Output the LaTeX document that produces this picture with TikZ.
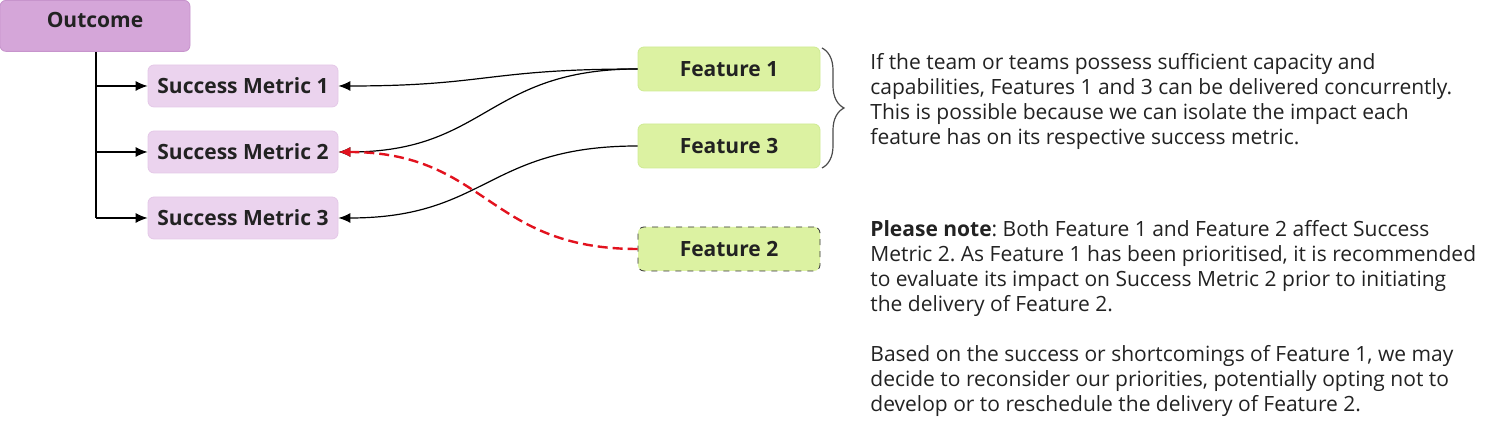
\documentclass[tikz,border=0pt]{standalone}
\usepackage{fontspec}
\setmainfont{Open Sans}
\frenchspacing
\usetikzlibrary{arrows.meta,decorations.pathreplacing}
\definecolor{outcomefill}{HTML}{D5A6D9}
\definecolor{outcomedraw}{HTML}{C794CC}
\definecolor{metricfill}{HTML}{EBD3EE}
\definecolor{metricdraw}{HTML}{E4C8E7}
\definecolor{featurefill}{HTML}{DCF2A2}
\definecolor{featuredraw}{HTML}{CFEA94}
\definecolor{inktext}{HTML}{222222}
\definecolor{linkred}{HTML}{E2121E}
\tikzset{
    box/.style = {rectangle, rounded corners=3pt, thin, text=inktext, font=\bfseries\fontsize{10.5}{12}\selectfont, inner sep=0pt},
    outcome-box/.style = {box, fill=outcomefill, draw=outcomedraw, minimum width=95pt, text height=13.5pt, text depth=12pt},
    metric-box/.style = {box, fill=metricfill, draw=metricdraw, minimum width=95pt, minimum height=21pt},
    feature-box/.style = {box, fill=featurefill, draw=featuredraw, minimum width=91pt, minimum height=22pt},
    link/.style = {-{Latex[length=6pt,width=5pt]}, line width=0.6pt, black},
    note-text/.style = {text=inktext, font=\fontsize{10.5}{12.5}\selectfont, align=left, anchor=north west, inner sep=0pt},
}
\begin{document}
\begin{tikzpicture}[x=0.5pt,y=-0.5pt]
\useasboundingbox (0,0) rectangle (1496,431);
% outcome and its metrics
\node [outcome-box, anchor=north] (outcome) at (95,0) {Outcome};
\node [metric-box] (sm1) at (243,86) {Success Metric 1};
\node [metric-box] (sm2) at (243,152) {Success Metric 2};
\node [metric-box] (sm3) at (243,218) {Success Metric 3};
\coordinate (trunk1) at (96,86);
\coordinate (trunk2) at (96,152);
\coordinate (trunk3) at (96,218);
\draw [line width=0.6pt] (outcome.south -| trunk1) -- (trunk3);
\draw [link] (trunk1) -- (sm1.west);
\draw [link] (trunk2) -- (sm2.west);
\draw [link] (trunk3) -- (sm3.west);
% features
\node [feature-box] (f1) at (729,69) {Feature 1};
\node [feature-box] (f3) at (729,146) {Feature 3};
\node [feature-box, draw=black!80, dashed] (f2) at (729,249) {Feature 2};
\draw [link] (f1.west) .. controls (487,69) and (487,86) .. (sm1.east);
\draw [link] (f1.west) .. controls (487,69) and (487,152) .. (sm2.east);
\draw [link] (f3.west) .. controls (487,146) and (487,218) .. (sm3.east);
\draw [link, linkred, line width=1.2pt, dash pattern=on 5pt off 2.5pt] (f2.west) .. controls (487,249) and (487,152) .. (sm2.east);
% brace
\coordinate (bracetop) at (822,48);
\coordinate (bracebot) at (822,168);
\draw [black!70, line width=0.6pt, decorate, decoration={brace, amplitude=11pt}] (bracetop) -- (bracebot);
% notes
\node [note-text] (note1) at (870,53) {If the team or teams possess sufficient capacity and\\capabilities, Features 1 and 3 can be delivered concurrently.\\This is possible because we can isolate the impact each\\feature has on its respective success metric.};
\node [note-text] (note2) at (870,220) {\textbf{Please note}: Both Feature 1 and Feature 2 affect Success\\Metric 2. As Feature 1 has been prioritised, it is recommended\\to evaluate its impact on Success Metric 2 prior to initiating\\the delivery of Feature 2.\\[12.5pt]Based on the success or shortcomings of Feature 1, we may\\decide to reconsider our priorities, potentially opting not to\\develop or to reschedule the delivery of Feature 2.};
\end{tikzpicture}
\end{document}
